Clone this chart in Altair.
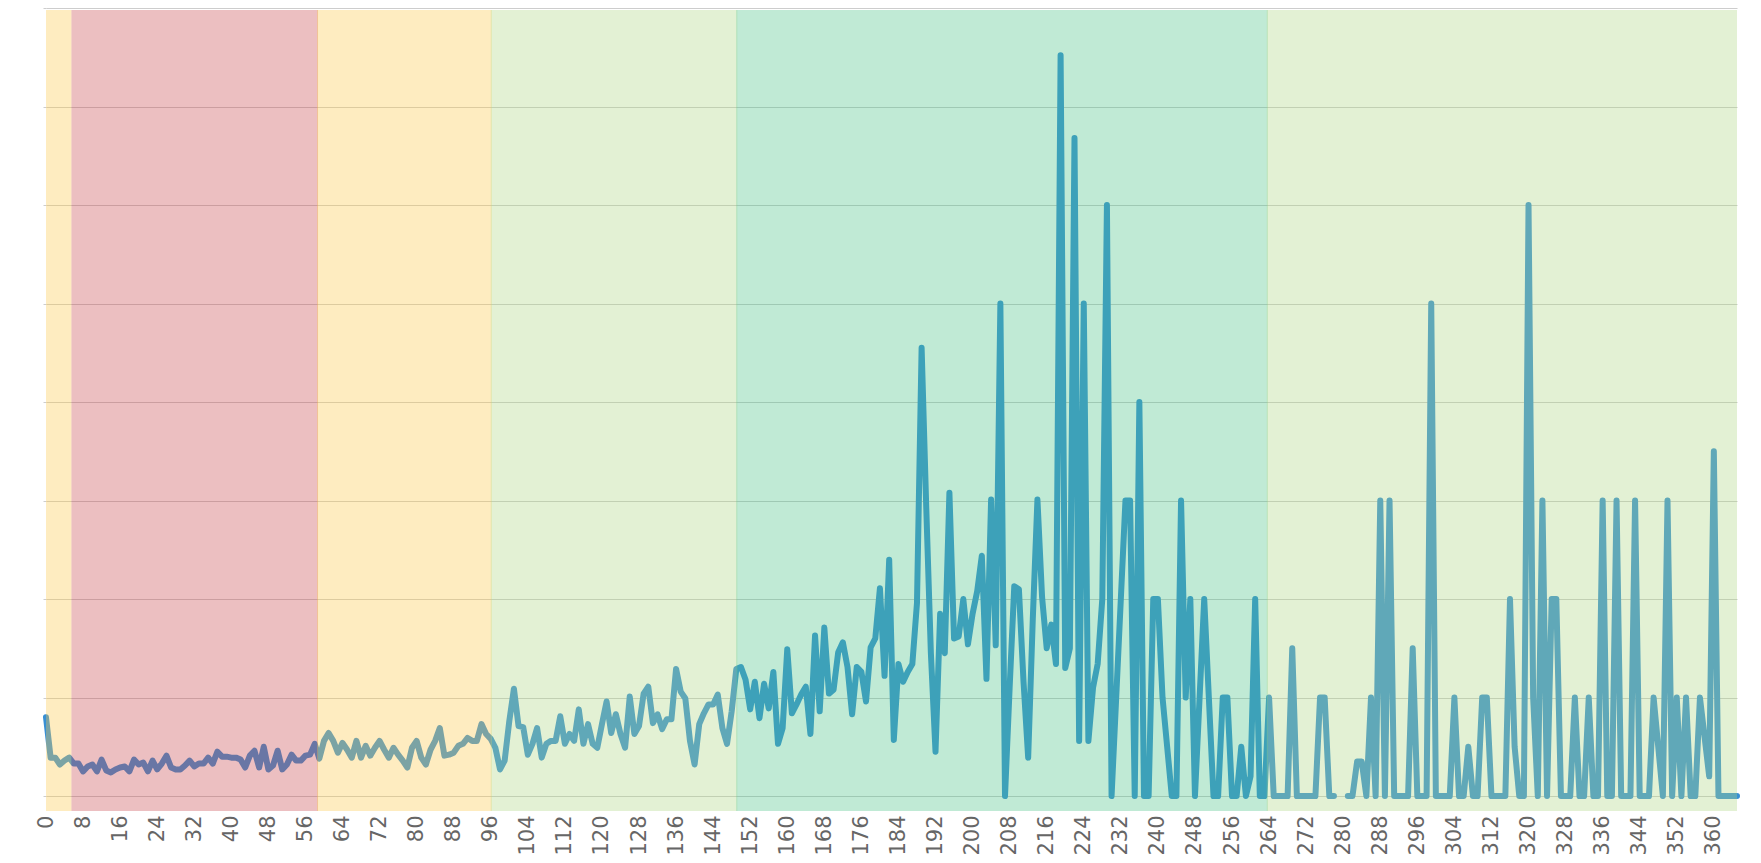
import altair as alt
import pandas as pd

# ---- data ----
day = list(range(366))
value = [
    8.0, 3.9, 3.9, 3.2, 3.6, 3.9, 3.3, 3.3, 2.5, 3.0,
    3.2, 2.5, 3.7, 2.6, 2.4, 2.7, 2.9, 3.0, 2.5, 3.7,
    3.2, 3.4, 2.5, 3.6, 2.7, 3.3, 4.1, 2.9, 2.7, 2.7,
    3.1, 3.6, 3.0, 3.3, 3.3, 3.9, 3.3, 4.5, 4.0, 4.0,
    3.9, 3.9, 3.7, 2.9, 4.1, 4.6, 2.9, 5.0, 2.7, 3.1,
    4.6, 2.7, 3.2, 4.2, 3.6, 3.6, 4.1, 4.2, 5.3, 3.8,
    5.6, 6.4, 5.6, 4.4, 5.4, 4.7, 3.9, 5.6, 3.9, 5.1,
    4.1, 4.9, 5.6, 4.7, 3.9, 4.9, 4.2, 3.6, 2.9, 4.9,
    5.6, 3.9, 3.2, 4.7, 5.6, 6.9, 4.1, 4.2, 4.4, 5.1,
    5.3, 5.9, 5.6, 5.6, 7.3, 6.3, 5.8, 4.9, 2.7, 3.6,
    7.6, 10.9, 7.1, 7.0, 4.2, 5.3, 6.9, 3.9, 5.3, 5.6,
    5.6, 8.1, 5.3, 6.3, 5.6, 8.8, 5.3, 7.3, 5.3, 4.9,
    7.3, 9.6, 6.4, 8.3, 6.3, 4.9, 10.1, 6.3, 7.1, 10.4,
    11.1, 7.4, 8.3, 6.8, 7.8, 7.8, 12.9, 10.6, 9.9, 5.6,
    3.2, 7.3, 8.4, 9.3, 9.3, 10.3, 6.9, 5.3, 8.6, 12.9,
    13.1, 11.8, 8.8, 11.6, 7.9, 11.4, 8.9, 12.6, 5.3, 6.9,
    14.9, 8.4, 9.3, 10.3, 11.1, 6.3, 16.3, 8.6, 17.1, 10.4,
    10.8, 14.6, 15.6, 13.1, 8.3, 13.1, 12.6, 9.6, 15.1, 16.0,
    21.1, 12.2, 24.0, 5.7, 13.4, 11.6, 12.6, 13.4, 19.6, 45.5,
    29.3, 14.5, 4.5, 18.5, 14.5, 30.8, 16.0, 16.2, 20.0, 15.4,
    18.5, 20.8, 24.4, 11.9, 30.1, 15.3, 50.0, 0.0, 11.0, 21.3,
    21.0, 11.6, 3.9, 18.0, 30.1, 20.2, 15.0, 17.4, 13.4, 75.2,
    13.0, 15.0, 66.8, 5.6, 50.0, 5.6, 11.0, 13.4, 20.0, 60.0,
    0.0, 10.0, 20.0, 30.0, 30.0, 0.0, 40.0, 0.0, 0.0, 20.0,
    20.0, 10.0, 5.0, 0.0, 0.0, 30.0, 10.0, 20.0, 0.0, 10.0,
    20.0, 10.0, 0.0, 0.0, 10.0, 10.0, 0.0, 0.0, 5.0, 0.0,
    2.0, 20.0, 0.0, 0.0, 10.0, 0.0, 0.0, 0.0, 0.0, 15.0,
    0.0, 0.0, 0.0, 0.0, 0.0, 10.0, 10.0, 0.0, 0.0, None,
    None, 0.0, 0.0, 3.5, 3.5, 0.0, 10.0, 0.0, 30.0, 0.0,
    30.0, 0.0, 0.0, 0.0, 0.0, 15.0, 0.0, 0.0, 0.0, 50.0,
    0.0, 0.0, 0.0, 0.0, 10.0, 0.0, 0.0, 5.0, 0.0, 0.0,
    10.0, 10.0, 0.0, 0.0, 0.0, 0.0, 20.0, 5.0, 0.0, 0.0,
    60.0, 10.0, 0.0, 30.0, 0.0, 20.0, 20.0, 0.0, 0.0, 0.0,
    10.0, 0.0, 0.0, 10.0, 0.0, 0.0, 30.0, 0.0, 0.0, 30.0,
    0.0, 0.0, 0.0, 30.0, 0.0, 0.0, 0.0, 10.0, 5.0, 0.0,
    30.0, 0.0, 10.0, 0.0, 10.0, 0.0, 0.0, 10.0, 6.0, 2.0,
    35.0, 0.0, 0.0, 0.0, 0.0, 0.0,
]

band_start = [0, 5.5, 58.5, 96, 149, 263.5]
band_end = [5.5, 58.5, 96, 149, 263.5, 365]
band_name = ["A", "B", "C", "D", "E", "F"]
band_color = ["#fcc94b", "#c9484e", "#fcc94b", "#afd784", "#4bc387", "#afd784"]

x_ticks = list(range(0, 361, 8))
y_grid = list(range(0, 81, 10))

df = pd.DataFrame({"day": day, "value": value})
bdf = pd.DataFrame({
    "start": band_start,
    "end": band_end,
    "name": band_name,
    "idx": list(range(len(band_start))),
})

W, H = 1691, 804
x_scale = alt.Scale(domain=[0, 365], nice=False, zero=False)
y_scale = alt.Scale(domain=[-1.62, 80], nice=False, zero=False)
GRID = "#cdcdcd"

x_axis = alt.Axis(
    values=x_ticks,
    grid=False,
    ticks=False,
    domain=False,
    labelAngle=270,
    labelFontSize=21,
    labelFont="DejaVu Sans",
    labelColor="#666666",
    labelPadding=3,
    labelFlush=False,
    labelOverlap=False,
    title=None,
)

line = alt.Chart(df).mark_line(
    color="#378fd4",
    strokeWidth=6,
    strokeJoin="round",
    strokeCap="round",
    invalid="break-paths-filter-domains",
).encode(
    x=alt.X("day:Q", scale=x_scale, axis=x_axis),
    y=alt.Y(
        "value:Q",
        scale=y_scale,
        axis=alt.Axis(
            values=y_grid,
            grid=True,
            gridColor=GRID,
            gridWidth=1,
            labels=False,
            ticks=True,
            tickSize=3,
            tickColor=GRID,
            domain=False,
            title=None,
        ),
    ),
)

bands = alt.Chart(bdf).transform_calculate(
    end2="datum.end + ((datum.idx >= 1 && datum.idx <= 4) ? 0.22 : 0)"
).mark_rect(opacity=0.35, strokeWidth=0).encode(
    x=alt.X("start:Q", scale=x_scale, axis=x_axis),
    x2="end2:Q",
    y=alt.value(2),
    y2=alt.value(H - 1),
    color=alt.Color(
        "name:N",
        scale=alt.Scale(domain=band_name, range=band_color),
        legend=None,
    ),
)

chart = alt.layer(line, bands).properties(
    width=W,
    height=H,
    padding={"left": 38, "top": 0, "right": 16, "bottom": 43},
    autosize=alt.AutoSizeParams(type="none"),
    background="white",
).configure_view(stroke=None)

chart.save("out.html", embed_options={"renderer": "svg", "actions": False})
